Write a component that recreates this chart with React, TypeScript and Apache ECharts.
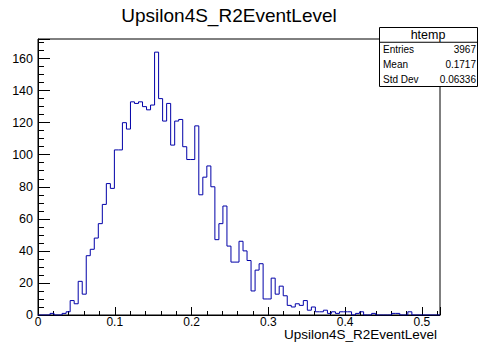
import React, { useEffect, useRef } from "react";
import * as echarts from "echarts";

// Histogram definition (ROOT TTree::Draw output)
const histTitle = "Upsilon4S_R2EventLevel";
const xAxisTitle = "Upsilon4S_R2EventLevel";
const histName = "htemp";
const xMin = 0;
const xMax = 0.5235;
const yMax = 172.2;
const statLabels = ["Entries", "Mean", "Std Dev"];
const statValues = ["3967", "0.1717", "0.06336"];

// bin contents, 100 bins
const binContents = [
  0, 0, 0, 1, 0, 0, 1, 2, 9, 7,
  21, 13, 37, 41, 48, 57, 69, 82, 79, 103,
  103, 120, 116, 133, 132, 133, 130, 128, 131, 164,
  135, 121, 132, 106, 121, 122, 105, 97, 97, 118,
  75, 86, 93, 80, 47, 57, 68, 43, 33, 33,
  46, 40, 34, 15, 28, 32, 10, 10, 23, 13,
  18, 12, 6, 5, 7, 6, 9, 3, 5, 2,
  2, 3, 1, 2, 1, 2, 2, 2, 0, 1,
  2, 0, 0, 1, 0, 0, 0, 0, 1, 1,
  0, 0, 2, 0, 0, 0, 0, 0, 0, 0,
];

const FONT = "'Liberation Sans', Arial, Helvetica, sans-serif";

export default function App() {
  const ref = useRef<HTMLDivElement>(null);
  useEffect(() => {
    if (!ref.current) return;
    const chart = echarts.init(ref.current, null, { renderer: "svg" });
    const n = binContents.length;
    const w = (xMax - xMin) / n;
    const stepData: number[][] = binContents.map((v, i) => [xMin + i * w, v]);
    stepData.push([xMax, binContents[n - 1]]);

    const boxX = 379;
    const boxY = 27;
    const boxW = 98;
    const boxH = 59;
    const rowH = boxH / 4;

    const graphics: any[] = [
      {
        type: "text",
        z: 10,
        style: {
          text: histTitle,
          x: 229,
          y: 15,
          font: `19px ${FONT}`,
          fill: "#000",
          align: "center",
          verticalAlign: "middle",
          textAlign: "center",
          textVerticalAlign: "middle",
        },
      },
      {
        type: "text",
        z: 10,
        style: {
          text: xAxisTitle,
          x: 437,
          y: 334,
          font: `13.5px ${FONT}`,
          lineHeight: 12,
          fill: "#000",
          align: "right",
          verticalAlign: "middle",
          textAlign: "right",
          textVerticalAlign: "middle",
        },
      },
      {
        type: "rect",
        z: 10,
        shape: { x: boxX + 0.5, y: boxY + 0.5, width: boxW, height: boxH },
        style: { fill: "#fff", stroke: "#000", lineWidth: 1 },
      },
      {
        type: "line",
        z: 11,
        shape: { x1: boxX, y1: boxY + rowH + 0.5, x2: boxX + boxW, y2: boxY + rowH + 0.5 },
        style: { stroke: "#000", lineWidth: 1 },
      },
      {
        type: "text",
        z: 11,
        style: {
          text: histName,
          x: boxX + boxW / 2,
          y: boxY + rowH / 2 + 0.5,
          font: `12.5px ${FONT}`,
          fill: "#000",
          align: "center",
          verticalAlign: "middle",
          textAlign: "center",
          textVerticalAlign: "middle",
        },
      },
    ];
    statLabels.forEach((lab, i) => {
      const cy = boxY + rowH * (i + 1.5) + 0.5;
      graphics.push({
        type: "text",
        z: 11,
        style: {
          text: lab,
          x: boxX + 4,
          y: cy,
          font: `10px ${FONT}`,
          fill: "#000",
          align: "left",
          verticalAlign: "middle",
          textAlign: "left",
          textVerticalAlign: "middle",
        },
      });
      graphics.push({
        type: "text",
        z: 11,
        style: {
          text: statValues[i],
          x: boxX + boxW - 1,
          y: cy,
          font: `10px ${FONT}`,
          fill: "#000",
          align: "right",
          verticalAlign: "middle",
          textAlign: "right",
          textVerticalAlign: "middle",
        },
      });
    });

    chart.setOption({
      animation: false,
      backgroundColor: "#fff",
      grid: {
        left: 38,
        right: 38,
        top: 39,
        bottom: 27,
        show: true,
        borderColor: "#000",
        borderWidth: 1,
        backgroundColor: "transparent",
      },
      xAxis: {
        type: "value",
        min: xMin,
        max: xMax,
        interval: 0.1,
        axisLine: { show: true, onZero: false, lineStyle: { color: "#000", width: 1 } },
        axisTick: { show: true, inside: true, length: 8, lineStyle: { color: "#000" } },
        minorTick: { show: true, splitNumber: 5, length: 4, lineStyle: { color: "#000" } },
        splitLine: { show: false },
        axisLabel: {
          show: true,
          color: "#000",
          fontSize: 12,
          lineHeight: 11,
          fontFamily: FONT,
          margin: 1.5,
          showMaxLabel: false,
          formatter: (v: number) => (Math.abs(v) < 1e-9 ? "0" : String(Math.round(v * 10) / 10)),
        },
      },
      yAxis: {
        type: "value",
        min: 0,
        max: yMax,
        interval: 20,
        axisLine: { show: true, lineStyle: { color: "#000", width: 1 } },
        axisTick: { show: true, inside: true, length: 12, lineStyle: { color: "#000" } },
        minorTick: { show: true, splitNumber: 4, length: 6, lineStyle: { color: "#000" } },
        splitLine: { show: false },
        axisLabel: {
          show: true,
          color: "#000",
          fontSize: 12.5,
          fontFamily: FONT,
          margin: 5,
          showMaxLabel: false,
        },
      },
      series: [
        {
          type: "line",
          step: "end",
          data: stepData,
          symbol: "none",
          showSymbol: false,
          lineStyle: { color: "#0000a8", width: 1 },
          clip: true,
          silent: true,
        },
      ],
      graphic: graphics,
    });
    return () => chart.dispose();
  }, []);
  return (
    <div
      ref={ref}
      style={{ position: "absolute", left: 0, top: 0, width: 478, height: 342 }}
    />
  );
}
